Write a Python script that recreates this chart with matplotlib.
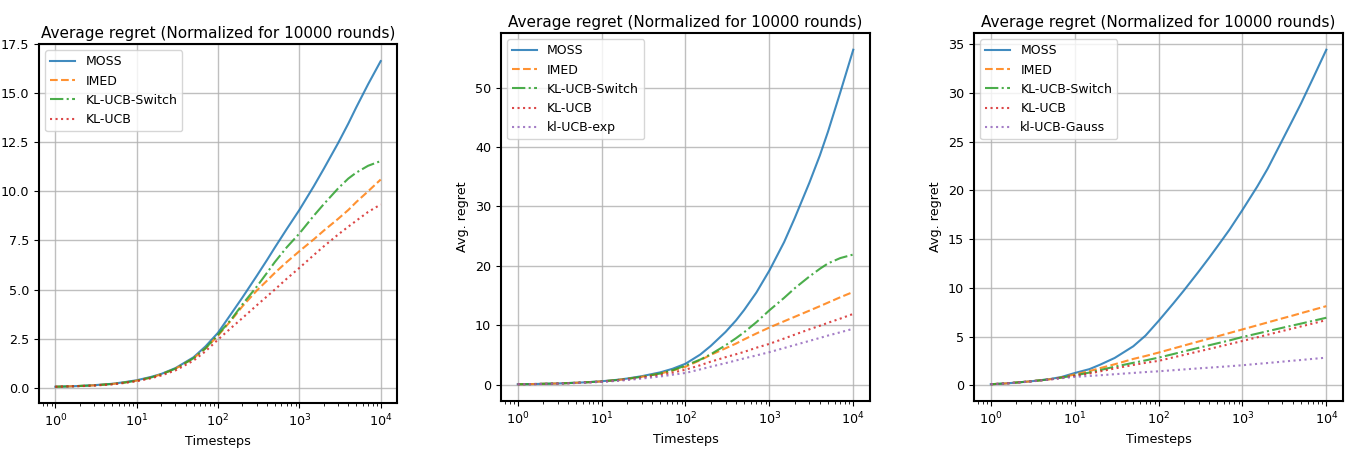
import numpy as np
import matplotlib
matplotlib.use("Agg")
import matplotlib.pyplot as plt

t = [1, 1.5, 2, 3, 5, 7, 10, 15, 20, 30, 50, 70, 100, 150, 200, 300, 400, 500, 700,
     1000, 1500, 2000, 3000, 4000, 5000, 7000, 10000]

# panel 1
p1_moss   = [0.05, 0.07, 0.09, 0.13, 0.20, 0.28, 0.38, 0.55, 0.70, 1.00, 1.55, 2.10, 2.80, 3.85, 4.60, 5.70, 6.50, 7.14, 8.08,
             9.05, 10.25, 11.15, 12.46, 13.45, 14.27, 15.45, 16.63]
p1_imed   = [0.05, 0.07, 0.09, 0.12, 0.19, 0.26, 0.36, 0.52, 0.68, 0.97, 1.50, 2.00, 2.65, 3.50, 4.15, 4.95, 5.45, 5.85, 6.40,
             6.95, 7.55, 8.00, 8.60, 9.05, 9.45, 10.00, 10.60]
p1_switch = [0.05, 0.07, 0.09, 0.12, 0.19, 0.26, 0.36, 0.52, 0.68, 0.97, 1.50, 2.00, 2.70, 3.55, 4.25, 5.15, 5.85, 6.40, 7.15,
             7.85, 8.75, 9.35, 10.15, 10.65, 10.95, 11.30, 11.54]
p1_klucb  = [0.05, 0.07, 0.08, 0.11, 0.17, 0.24, 0.33, 0.48, 0.62, 0.88, 1.38, 1.85, 2.45, 3.10, 3.55, 4.20, 4.65, 5.00, 5.55,
             6.10, 6.75, 7.20, 7.80, 8.20, 8.50, 8.95, 9.33]

# panel 2
p2_moss   = [0.05, 0.08, 0.12, 0.18, 0.30, 0.40, 0.55, 0.78, 1.00, 1.40, 2.05, 2.65, 3.50, 5.05, 6.50, 8.85, 10.80, 12.55, 15.50,
             19.20, 24.00, 28.00, 34.00, 38.60, 42.60, 49.20, 56.40]
p2_imed   = [0.05, 0.08, 0.12, 0.18, 0.30, 0.40, 0.52, 0.74, 0.95, 1.30, 1.85, 2.35, 3.00, 4.10, 5.00, 6.10, 6.90, 7.60, 8.60,
             9.60, 10.66, 11.40, 12.45, 13.20, 13.80, 14.70, 15.60]
p2_switch = [0.05, 0.08, 0.12, 0.18, 0.30, 0.40, 0.52, 0.74, 0.95, 1.30, 1.85, 2.40, 3.20, 4.20, 5.10, 6.60, 7.80, 8.80, 10.50,
             12.50, 14.60, 16.20, 18.20, 19.50, 20.40, 21.30, 21.90]
p2_klucb  = [0.05, 0.07, 0.10, 0.16, 0.27, 0.37, 0.48, 0.66, 0.85, 1.15, 1.60, 2.00, 2.50, 3.25, 3.85, 4.60, 5.10, 5.50, 6.20,
             6.85, 7.75, 8.40, 9.30, 9.90, 10.40, 11.10, 11.90]
p2_exp    = [0.05, 0.07, 0.10, 0.15, 0.25, 0.34, 0.45, 0.60, 0.75, 1.00, 1.35, 1.65, 1.95, 2.55, 3.00, 3.60, 4.05, 4.40, 4.90,
             5.45, 6.15, 6.65, 7.35, 7.85, 8.25, 8.80, 9.40]

# panel 3
p3_moss   = [0.10, 0.18, 0.27, 0.40, 0.62, 0.85, 1.25, 1.65, 2.10, 2.80, 4.00, 5.10, 6.60, 8.40, 9.72, 11.66, 13.08, 14.22, 15.97,
             18.00, 20.40, 22.25, 25.20, 27.30, 28.95, 31.60, 34.46]
p3_imed   = [0.10, 0.18, 0.27, 0.40, 0.60, 0.80, 1.10, 1.45, 1.75, 2.15, 2.70, 3.00, 3.35, 3.77, 4.07, 4.49, 4.78, 5.01, 5.36,
             5.73, 6.15, 6.45, 6.87, 7.16, 7.40, 7.75, 8.12]
p3_switch = [0.10, 0.18, 0.27, 0.40, 0.60, 0.78, 1.00, 1.30, 1.55, 1.90, 2.30, 2.55, 2.83, 3.20, 3.47, 3.84, 4.10, 4.30, 4.60,
             4.95, 5.30, 5.55, 5.90, 6.14, 6.33, 6.62, 6.93]
p3_klucb  = [0.10, 0.18, 0.26, 0.39, 0.58, 0.76, 0.95, 1.20, 1.42, 1.72, 2.08, 2.30, 2.50, 2.86, 3.11, 3.47, 3.72, 3.92, 4.22,
             4.54, 4.92, 5.19, 5.57, 5.83, 6.04, 6.35, 6.69]
p3_gauss  = [0.10, 0.17, 0.25, 0.38, 0.58, 0.72, 0.85, 0.95, 1.02, 1.13, 1.26, 1.35, 1.43, 1.54, 1.62, 1.73, 1.80, 1.86, 1.95,
             2.05, 2.19, 2.28, 2.42, 2.52, 2.59, 2.71, 2.83]

title = 'Average regret (Normalized for 10000 rounds)'
styles = {'MOSS': ('C0', '-'), 'IMED': ('C1', '--'), 'KL-UCB-Switch': ('C2', '-.'),
          'KL-UCB': ('C3', ':'), 'kl-UCB-exp': ('C4', ':'), 'kl-UCB-Gauss': ('C4', ':')}

panels = [
    ([('MOSS', p1_moss), ('IMED', p1_imed), ('KL-UCB-Switch', p1_switch), ('KL-UCB', p1_klucb)],
     [0.029, 0.1024, 0.2657, 0.7996], False),
    ([('MOSS', p2_moss), ('IMED', p2_imed), ('KL-UCB-Switch', p2_switch), ('KL-UCB', p2_klucb),
      ('kl-UCB-exp', p2_exp)],
     [0.3719, 0.107, 0.274, 0.8195], True),
    ([('MOSS', p3_moss), ('IMED', p3_imed), ('KL-UCB-Switch', p3_switch), ('KL-UCB', p3_klucb),
      ('kl-UCB-Gauss', p3_gauss)],
     [0.7231, 0.107, 0.274, 0.8195], True),
]

fig = plt.figure(figsize=(13.47, 4.49), dpi=100)
for i, (series, rect, ylab) in enumerate(panels):
    ax = fig.add_axes(rect)
    for name, vals in series:
        c, ls = styles[name]
        ax.plot(t, vals, color=c, linestyle=ls, lw=1.5, label=name, alpha=0.85)
    ax.set_xscale('log')
    ax.set_title(title, fontsize=11, pad=4)
    ax.set_xlabel('Timesteps', fontsize=9.2)
    if ylab:
        ax.set_ylabel('Avg. regret', fontsize=9.2)
    if i == 0:
        ax.set_yticks(np.arange(0, 17.6, 2.5))
        ax.set_ylim(top=17.5)
    ax.tick_params(labelsize=9.2)
    ax.grid(True, color='#b0b0b0', lw=1.0, alpha=0.8)
    for sp in ax.spines.values():
        sp.set_linewidth(1.5)
    ax.legend(loc='upper left', fontsize=9, framealpha=0.8)

plt.savefig('out.png')
